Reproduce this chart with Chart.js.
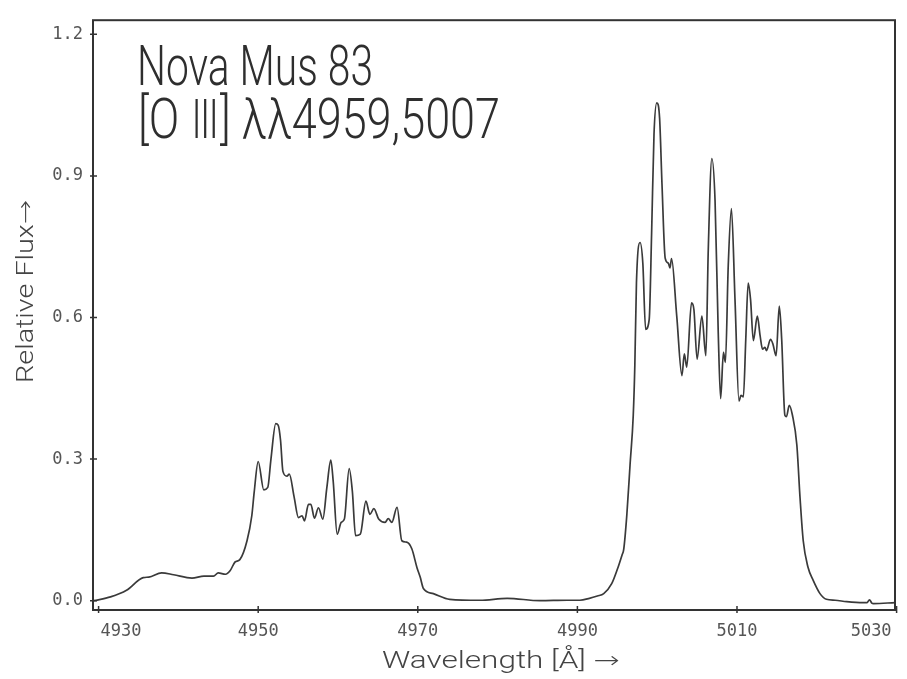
<!DOCTYPE html>
<html><head><meta charset="utf-8">
<script src="https://cdn.jsdelivr.net/npm/chart.js@4.4.1/dist/chart.umd.min.js"></script>
<style>html,body{margin:0;padding:0;background:#fff}#wrap{width:907px;height:679px;position:relative}</style>
</head><body><div id="wrap"><canvas id="c"></canvas></div>
<script>
const wavelength = [4929.4,4931.5,4933.5,4935.6,4936.3,4937.9,4939.4,4941.7,4943.2,4944.4,4945.0,4945.9,4946.5,4947.1,4947.7,4948.6,4949.2,4949.5,4950.0,4950.7,4951.2,4951.6,4952.2,4952.5,4952.8,4953.1,4953.6,4953.9,4954.5,4955.05,4955.5,4955.8,4956.3,4956.6,4957.05,4957.55,4958.1,4958.6,4959.1,4959.4,4959.9,4960.4,4960.8,4961.4,4961.8,4962.2,4962.8,4963.5,4964.0,4964.5,4965.1,4965.9,4966.3,4966.75,4967.4,4968.0,4968.6,4969.25,4969.9,4970.3,4970.7,4971.95,4974.0,4977.8,4981.2,4985.3,4988.7,4990.3,4991.5,4992.5,4993.3,4994.3,4995.1,4995.6,4995.8,4996.2,4996.6,4997.0,4997.2,4997.4,4997.85,4998.2,4998.55,4999.0,4999.3,4999.6,4999.95,5000.3,5000.6,5001.0,5001.4,5001.6,5001.8,5002.45,5003.1,5003.4,5003.7,5004.3,5004.6,5005.0,5005.6,5006.1,5006.4,5006.85,5007.25,5007.65,5007.95,5008.3,5008.55,5008.9,5009.3,5009.75,5010.25,5010.5,5010.8,5011.1,5011.4,5011.7,5012.05,5012.55,5012.9,5013.2,5013.5,5013.7,5014.2,5014.5,5014.9,5015.3,5015.6,5016.0,5016.2,5016.55,5016.95,5017.5,5017.9,5018.3,5018.9,5019.55,5020.4,5021.2,5022.3,5023.75,5025.8,5026.3,5026.6,5026.9,5027.1,5029.8];
const flux = [0.000,0.008,0.022,0.049,0.050,0.059,0.055,0.048,0.052,0.052,0.059,0.056,0.064,0.082,0.087,0.127,0.180,0.230,0.295,0.235,0.240,0.300,0.375,0.372,0.340,0.274,0.264,0.268,0.220,0.176,0.180,0.169,0.204,0.204,0.175,0.197,0.173,0.239,0.298,0.253,0.141,0.166,0.173,0.280,0.232,0.138,0.141,0.211,0.183,0.195,0.173,0.166,0.174,0.166,0.198,0.127,0.124,0.110,0.070,0.050,0.026,0.015,0.003,0.001,0.005,0.000,0.001,0.001,0.005,0.010,0.015,0.036,0.071,0.097,0.108,0.183,0.288,0.393,0.500,0.673,0.759,0.715,0.575,0.596,0.778,0.988,1.055,1.023,0.883,0.726,0.715,0.705,0.725,0.603,0.477,0.523,0.495,0.631,0.617,0.512,0.603,0.519,0.743,0.937,0.848,0.568,0.428,0.526,0.505,0.708,0.831,0.638,0.423,0.435,0.432,0.554,0.673,0.638,0.551,0.603,0.561,0.533,0.537,0.530,0.554,0.544,0.519,0.624,0.554,0.393,0.390,0.414,0.393,0.330,0.218,0.127,0.071,0.043,0.015,0.003,0.001,-0.002,-0.004,-0.004,0.002,-0.005,-0.006,-0.004];
const xTickValues = [4930,4950,4970,4990,5010,5030];
const yTickValues = [0,0.3,0.6,0.9,1.2];
const titleLines = ['Nova Mus 83','[O Ⅲ] λλ4959,5007'];
const xAxisTitle = 'Wavelength [Å] →';
const yAxisTitle = 'Relative Flux→';

const points = wavelength.map((w,i)=>({x:w,y:flux[i]}));

const FONT_A = '300 56px Roboto, "DejaVu Sans"';
const FONT_B = '200 54px "DejaVu Sans"';

function drawFit(ctx, text, x, y, targetW, font){
  ctx.font = font;
  const w = ctx.measureText(text).width;
  ctx.save(); ctx.translate(x,y); ctx.scale(targetW/w,1);
  ctx.textAlign='left'; ctx.fillText(text,0,0); ctx.restore();
}
// draws a line where Roman numerals use a font whose glyphs have bars
function drawFitRich(ctx, text, x, y, targetW){
  const parts = text.split(/(Ⅲ)/).filter(p=>p.length);
  const fonts = parts.map(p=>p==='Ⅲ'?FONT_B:FONT_A);
  let total=0; const ws=[];
  parts.forEach((p,i)=>{ctx.font=fonts[i]; const w=ctx.measureText(p).width; ws.push(w); total+=w;});
  ctx.save(); ctx.translate(x,y); ctx.scale(targetW/total,1); ctx.textAlign='left';
  let cx=0;
  parts.forEach((p,i)=>{ctx.font=fonts[i]; ctx.fillText(p,cx,0); cx+=ws[i];});
  ctx.restore();
}

const decor = {
  id:'decor',
  afterDraw(chart){
    const ctx = chart.ctx, ca = chart.chartArea;
    const xs = chart.scales.x, ys = chart.scales.y;
    ctx.save();
    ctx.strokeStyle='#333'; ctx.lineWidth=2;
    ctx.strokeRect(ca.left, ca.top, ca.right-ca.left, ca.bottom-ca.top);
    ctx.lineWidth=1.5;
    ctx.beginPath();
    xTickValues.forEach(v=>{const px=xs.getPixelForValue(v); ctx.moveTo(px,ca.bottom-4); ctx.lineTo(px,ca.bottom+3);});
    yTickValues.forEach(v=>{const py=ys.getPixelForValue(v); ctx.moveTo(ca.left-3,py); ctx.lineTo(ca.left+4,py);});
    ctx.stroke();
    // x tick labels
    ctx.fillStyle='#555'; ctx.font='17px "DejaVu Sans Mono"'; ctx.textBaseline='middle';
    xTickValues.forEach((v,i)=>{
      const px = xs.getPixelForValue(v);
      if(i===0){ctx.textAlign='left'; ctx.fillText(String(v), px+2, 632);}
      else if(i===xTickValues.length-1){ctx.textAlign='right'; ctx.fillText(String(v), px-5, 632);}
      else {ctx.textAlign='center'; ctx.fillText(String(v), px, 632);}
    });
    // titles inside plot
    ctx.fillStyle='#2e2e2e'; ctx.textBaseline='alphabetic';
    drawFit(ctx, titleLines[0], 137, 85, 236, FONT_A);
    drawFitRich(ctx, titleLines[1], 138, 138, 362);
    // axis titles
    ctx.fillStyle='#444';
    drawFit(ctx, xAxisTitle, 382, 668, 238, '300 23px Roboto, "DejaVu Sans"');
    ctx.save(); ctx.translate(33,383); ctx.rotate(-Math.PI/2);
    drawFit(ctx, yAxisTitle, 0, 0, 183, '300 23px Roboto, "DejaVu Sans"');
    ctx.restore();
    ctx.restore();
  }
};

new Chart(document.getElementById('c'), {
  type:'line',
  data:{datasets:[{data:points, borderColor:'#3a3a3a', borderWidth:1.7, pointRadius:0, fill:false, cubicInterpolationMode:'monotone'}]},
  options:{
    responsive:true, maintainAspectRatio:false, animation:false,
    layout:{padding:{left:0,right:12,top:15,bottom:0}},
    plugins:{legend:{display:false}, tooltip:{enabled:false}},
    scales:{
      x:{type:'linear', min:4929.3, max:5029.8,
         afterBuildTicks:s=>{s.ticks = xTickValues.map(v=>({value:v}));},
         ticks:{display:false}, grid:{display:false, drawTicks:false}, border:{display:false},
         afterFit:s=>{s.height=69;}},
      y:{type:'linear', min:-0.0197, max:1.23,
         afterBuildTicks:s=>{s.ticks = yTickValues.map(v=>({value:v}));},
         ticks:{font:{family:'DejaVu Sans Mono', size:17}, color:'#555', padding:10, callback:v=>Number(v).toFixed(1)},
         grid:{display:false, drawTicks:false}, border:{display:false},
         afterFit:s=>{s.width=93;}}
    }
  },
  plugins:[decor]
});
</script>
</body></html>
